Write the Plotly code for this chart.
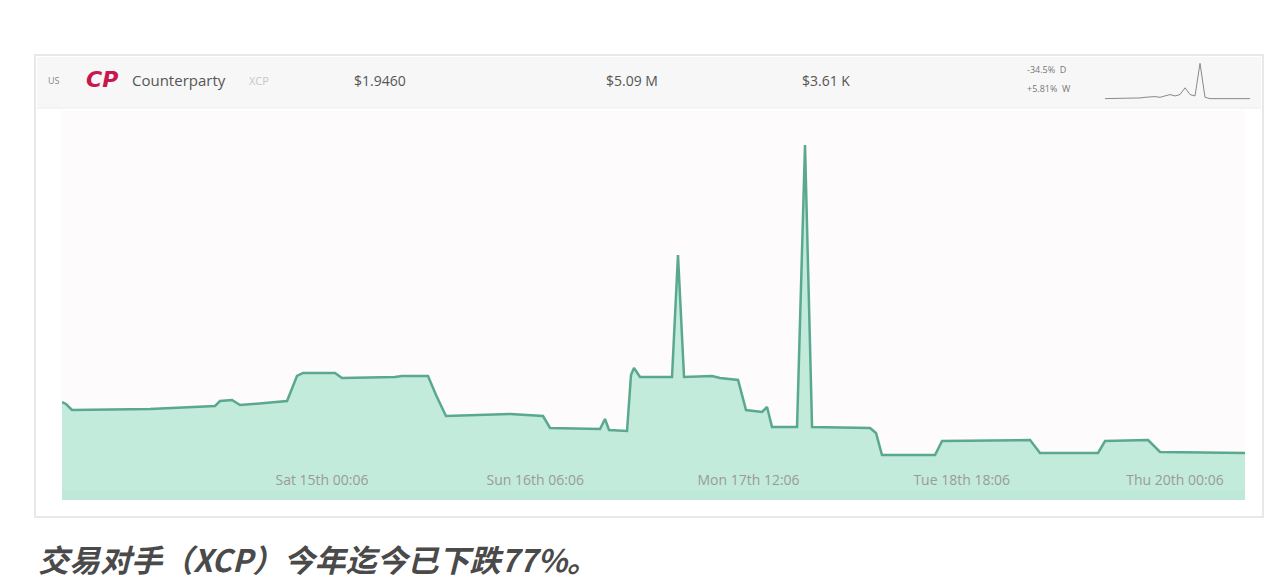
import pandas as pd
import plotly.graph_objects as go

# ---- data (hours relative to Sat 15th 00:06, price in USD) ----
hours = [-36.58, -36.02, -35.17, -24.20, -15.05, -14.35, -12.66, -11.54, -8.02, -4.92,
         -3.52, -2.67, 1.83, 2.81, 10.27, 11.25, 14.91, 16.04, 17.44, 26.45,
         31.09, 32.08, 39.11, 39.81, 40.38, 42.91, 43.47, 43.89, 44.74, 49.24,
         50.08, 50.93, 54.87, 55.99, 58.53, 59.65, 61.90, 62.61, 63.31, 66.83,
         67.95, 68.94, 77.10, 77.94, 78.78, 86.24, 87.23, 99.61, 101.01, 109.17,
         110.16, 116.21, 117.90, 129.85]
prices = [2.048, 2.044, 2.032, 2.034, 2.040, 2.050, 2.052, 2.042, 2.046, 2.050,
          2.100, 2.106, 2.106, 2.096, 2.098, 2.100, 2.100, 2.062, 2.020, 2.024,
          2.020, 1.996, 1.994, 2.014, 1.992, 1.990, 2.102, 2.116, 2.098, 2.098,
          2.342, 2.098, 2.100, 2.096, 2.092, 2.032, 2.028, 2.038, 1.998, 1.998,
          2.562, 1.998, 1.996, 1.986, 1.942, 1.942, 1.970, 1.972, 1.946, 1.946,
          1.970, 1.972, 1.948, 1.946]

tick_hours = [0, 30, 60, 90, 120]
tick_labels = ["Sat 15th 00:06", "Sun 16th 06:06", "Mon 17th 12:06",
               "Tue 18th 18:06", "Thu 20th 00:06"]

# sparkline (longer-term history) in header
spark_idx = list(range(30))
spark_vals = [1.0, 1.0, 1.0, 1.0, 1.0, 1.0, 1.05, 1.05, 1.1, 1.15, 1.15, 1.1, 1.2, 1.3, 1.2,
              1.3, 1.8, 1.3, 1.2, 3.6, 1.1, 1.0, 1.0, 1.0, 1.0, 1.0, 1.0, 1.0, 1.0, 1.0]

header = {"price": "$1.9460", "mcap": "$5.09 M", "vol": "$3.61 K",
          "day": "-34.5%  D", "week": "+5.81%  W"}
caption = "交易对手（XCP）今年迄今已下跌77%。"

base = pd.Timestamp("2018-12-15 00:06")
xs = [base + pd.Timedelta(hours=h) for h in hours]
tickvals = [base + pd.Timedelta(hours=h) for h in tick_hours]

fig = go.Figure()
fig.add_trace(go.Scatter(
    x=xs, y=prices, mode="lines", fill="tozeroy",
    line=dict(color="#5aa88f", width=2.5),
    fillcolor="#c3ebdc", hoverinfo="skip", showlegend=False))

fig.add_trace(go.Scatter(
    x=spark_idx, y=spark_vals, mode="lines", xaxis="x2", yaxis="y2",
    line=dict(color="#8a8a8a", width=1), showlegend=False, hoverinfo="skip"))

# page has an 8px body margin; paper = card (screen x 35..1263, y 55..517)
def px(x):
    return (x - 35) / 1228

def py(y):
    return (517 - y) / 462

fig.update_layout(
    width=1264, height=572,
    margin=dict(l=27, r=9, t=47, b=63),
    paper_bgcolor="white", plot_bgcolor="#fdfbfb",
    xaxis=dict(domain=[px(62), px(1245)], type="date",
               range=[base + pd.Timedelta(hours=-36.58), base + pd.Timedelta(hours=129.85)],
               tickvals=tickvals, ticktext=tick_labels, ticklabelposition="inside",
               ticklabelstandoff=9, ticks="", showgrid=False, zeroline=False,
               showline=False, tickfont=dict(family="Open Sans", size=14, color="#9a9a9a")),
    yaxis=dict(domain=[py(500), py(110)], range=[1.852, 2.632], visible=False,
               showgrid=False, zeroline=False),
    xaxis2=dict(domain=[px(1105), px(1250)], anchor="y2", visible=False,
                range=[0, 29]),
    yaxis2=dict(domain=[py(100), py(62)], anchor="x2", visible=False,
                range=[0.9, 3.7]),
    font=dict(family="Open Sans", color="#555"),
)

shapes = [
    # card border
    dict(type="rect", xref="paper", yref="paper", x0=0, x1=1, y0=0, y1=1,
         line=dict(color="#e8e8e8", width=2), fillcolor="rgba(0,0,0,0)", layer="below"),
    # header band
    dict(type="rect", xref="paper", yref="paper", x0=px(37), x1=px(1261), y0=py(108), y1=py(57),
         line=dict(width=0), fillcolor="#f7f7f7", layer="below"),
    dict(type="line", xref="paper", yref="paper", x0=px(37), x1=px(1261), y0=py(108), y1=py(108),
         line=dict(color="#ececec", width=1)),
    # faint strip at bottom of area
    dict(type="rect", xref="paper", yref="paper", x0=px(62), x1=px(1245), y0=py(500), y1=py(490),
         line=dict(width=0), fillcolor="rgba(120,180,160,0.06)"),
]
fig.update_layout(shapes=shapes)

ann = []
ann.append(dict(text="US", x=px(46), y=py(80), xanchor="left", font=dict(size=9, color="#888")))
ann.append(dict(text="<b><i>CP</i></b>", x=px(102), y=py(79), xanchor="center",
                font=dict(family="DejaVu Sans", size=22, color="#c8174f")))
ann.append(dict(text="Counterparty", x=px(130), y=py(80), xanchor="left",
                font=dict(family="Open Sans", size=15, color="#555")))
ann.append(dict(text="XCP", x=px(247), y=py(80), xanchor="left",
                font=dict(family="Open Sans", size=11, color="#c8c8c8")))
ann.append(dict(text=header["price"], x=px(352), y=py(80), xanchor="left",
                font=dict(family="Open Sans", size=14, color="#555")))
ann.append(dict(text=header["mcap"], x=px(604), y=py(80), xanchor="left",
                font=dict(family="Open Sans", size=14, color="#555")))
ann.append(dict(text=header["vol"], x=px(800), y=py(80), xanchor="left",
                font=dict(family="Open Sans", size=14, color="#555")))
ann.append(dict(text=header["day"], x=px(1025), y=py(70), xanchor="left",
                font=dict(family="Open Sans", size=9, color="#777")))
ann.append(dict(text=header["week"], x=px(1025), y=py(89), xanchor="left",
                font=dict(family="Open Sans", size=9, color="#777")))
ann.append(dict(text="<b><i>" + caption + "</i></b>", x=px(36), y=py(558), xanchor="left",
                font=dict(family="Noto Sans CJK SC", size=31, color="#4a4a4a")))
for a in ann:
    a.update(xref="paper", yref="paper", showarrow=False, yanchor="middle")
fig.update_layout(annotations=ann)

fig.write_html("out.html")
